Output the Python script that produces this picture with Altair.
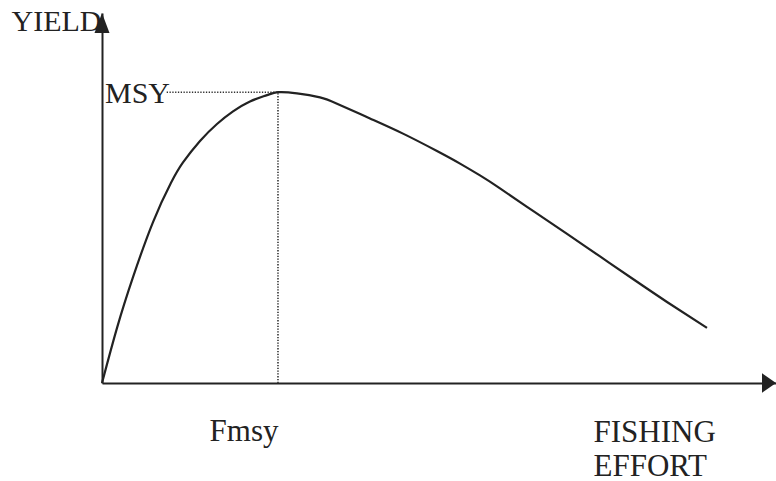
import altair as alt
import pandas as pd

# Yield-effort curve (surplus production), effort and yield in relative units 0-100
effort = [0, 2.23, 4.60, 7.57, 10.24, 12.02, 14.54, 17.06, 19.44, 21.96, 24.48, 26.11,
          28.93, 32.34, 34.87, 39.76, 44.66, 49.70, 53.12, 56.08, 59.05, 63.95, 69.0,
          73.89, 78.78, 83.83, 89.76]
yields = [0, 14.9, 28.6, 43.5, 54.1, 59.6, 65.4, 70.0, 73.4, 76.1, 77.8, 78.6,
          78.3, 77.2, 75.5, 71.5, 67.4, 62.7, 59.3, 56.1, 52.6, 46.5, 40.3,
          34.2, 28.1, 21.9, 14.9]

FMSY = 26.11           # effort giving the maximum sustainable yield
MSY = 78.6             # maximum sustainable yield
MSY_GUIDE_START = 9.6  # guide line starts just after the "MSY" label
AXIS_END = 100         # arrow tips of both axes

FONT = "Liberation Serif"
INK = "#222222"

curve = pd.DataFrame({"effort": effort, "yield": yields})
guides = pd.DataFrame({
    "effort": [MSY_GUIDE_START, FMSY],
    "effort2": [FMSY, FMSY],
    "yield": [MSY, 0],
    "yield2": [MSY, MSY],
})
msy_label = pd.DataFrame({"effort": [0], "yield": [MSY], "label": ["MSY"]})
x_tip = pd.DataFrame({"effort": [AXIS_END], "yield": [0]})
y_tip = pd.DataFrame({"effort": [0], "yield": [AXIS_END]})

xs = alt.Scale(domain=[0, AXIS_END], nice=False, zero=False)
ys = alt.Scale(domain=[0, AXIS_END], nice=False, zero=False)

x_axis = alt.Axis(
    values=[FMSY], labelExpr="'Fmsy'", ticks=False, tickSize=0, grid=False,
    labelPadding=57, labelAlign="right", labelBaseline="alphabetic",
    labelFont=FONT, labelFontSize=31, labelColor=INK, labelFlush=False,
    labelOverlap=False,
    domainColor=INK, domainWidth=2,
    title=["FISHING", "EFFORT"], titleX=491, titleY=58, titleAlign="left",
    titleBaseline="alphabetic", titleFont=FONT, titleFontSize=31,
    titleFontWeight="normal", titleColor=INK, titleLineHeight=34,
)
y_axis = alt.Axis(
    labels=False, ticks=False, grid=False,
    domainColor=INK, domainWidth=2,
    title="YIELD", titleAngle=0, titleX=-1, titleY=17, titleAlign="right",
    titleBaseline="alphabetic", titleFont=FONT, titleFontSize=30,
    titleFontWeight="normal", titleColor=INK,
)

X = alt.X("effort:Q", scale=xs, axis=x_axis)
Y = alt.Y("yield:Q", scale=ys, axis=y_axis)

line = alt.Chart(curve).mark_line(
    color=INK, strokeWidth=2.2, interpolate="natural"
).encode(x=X, y=Y)

dotted = alt.Chart(guides).mark_rule(
    color="#333333", strokeWidth=1.6, strokeDash=[1.3, 1.5]
).encode(x=X, x2="effort2:Q", y=Y, y2="yield2:Q")

msy_text = alt.Chart(msy_label).mark_text(
    font=FONT, fontSize=30, color=INK, align="left", baseline="alphabetic",
    dx=3, dy=11
).encode(x=X, y=Y, text="label:N")

x_arrow = alt.Chart(x_tip).mark_point(
    shape="M0,0L-1,-0.7L-1,0.7Z", size=784, filled=True, color=INK, opacity=1
).encode(x=X, y=Y)

y_arrow = alt.Chart(y_tip).mark_point(
    shape="M0,0L-0.375,1L0.375,1Z", size=1600, filled=True, color=INK, opacity=1
).encode(x=X, y=Y)

chart = alt.layer(dotted, line, msy_text, x_arrow, y_arrow).properties(
    width=674,
    height=370,
    autosize=alt.AutoSizeParams(type="none"),
    padding={"left": 102, "top": 13, "right": 0, "bottom": 98},
    background="white",
).configure_view(strokeWidth=0)

chart.save("out.html", embed_options={"renderer": "svg", "actions": False})
